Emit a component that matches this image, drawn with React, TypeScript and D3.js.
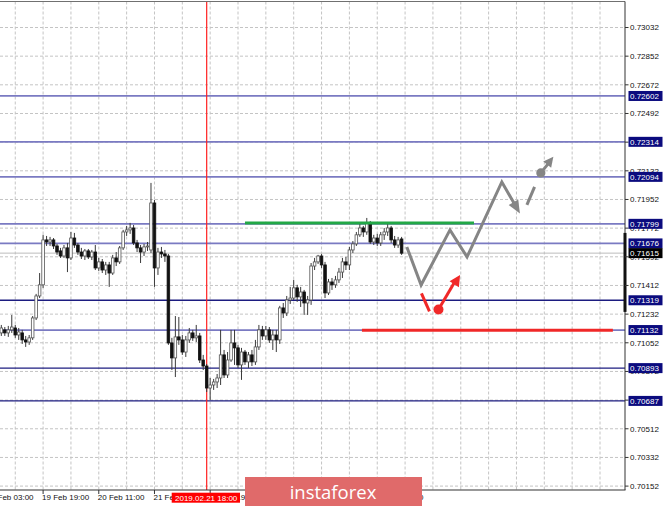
import React from "react";
import * as d3 from "d3";

const W = 665;
const H = 508;

// Hourly candles [open, high, low, close], first candle = bar index 4 (19 Feb 07:00)
const FIRST_BAR = 4;
const candles: [number, number, number, number][] = [
  [0.71114, 0.71164, 0.71095, 0.71145],
  [0.71133, 0.71151, 0.71095, 0.71114],
  [0.71114, 0.71158, 0.71089, 0.71133],
  [0.71133, 0.71227, 0.71114, 0.71151],
  [0.71145, 0.71164, 0.71083, 0.71101],
  [0.71101, 0.71145, 0.7107, 0.7112],
  [0.71114, 0.71133, 0.71045, 0.7107],
  [0.7107, 0.71095, 0.71026, 0.71057],
  [0.71057, 0.71101, 0.71039, 0.71083],
  [0.71083, 0.7122, 0.7107, 0.71208],
  [0.71208, 0.71359, 0.71195, 0.71346],
  [0.71346, 0.7149, 0.71333, 0.71416],
  [0.71416, 0.7173, 0.71397, 0.71698],
  [0.71698, 0.71723, 0.7166, 0.71685],
  [0.71685, 0.71717, 0.7166, 0.71698],
  [0.71698, 0.7171, 0.71641, 0.7166],
  [0.7166, 0.71673, 0.71604, 0.71622],
  [0.71629, 0.71648, 0.71585, 0.71597],
  [0.71597, 0.71666, 0.71585, 0.71648],
  [0.71648, 0.71679, 0.71496, 0.71585],
  [0.71585, 0.71748, 0.71572, 0.7171],
  [0.7171, 0.71742, 0.71648, 0.71666],
  [0.71666, 0.71679, 0.71604, 0.71622],
  [0.71622, 0.71648, 0.71578, 0.71597],
  [0.71597, 0.71641, 0.71572, 0.71629],
  [0.71629, 0.71641, 0.71578, 0.71591],
  [0.71591, 0.71635, 0.71572, 0.71622],
  [0.71622, 0.71666, 0.71509, 0.71522],
  [0.71522, 0.71585, 0.71503, 0.7156],
  [0.7156, 0.71578, 0.7149, 0.71509],
  [0.71509, 0.7156, 0.71478, 0.71541],
  [0.71541, 0.7156, 0.71403, 0.7149],
  [0.7149, 0.71604, 0.71478, 0.71585],
  [0.71585, 0.71622, 0.71534, 0.7156],
  [0.7156, 0.7166, 0.71547, 0.71648],
  [0.71648, 0.71761, 0.71635, 0.71748],
  [0.71748, 0.71786, 0.71723, 0.71761],
  [0.71761, 0.71805, 0.71736, 0.71773],
  [0.71773, 0.71792, 0.71666, 0.71679],
  [0.71679, 0.71698, 0.71622, 0.71648],
  [0.71648, 0.71666, 0.71553, 0.71622],
  [0.71622, 0.71673, 0.71597, 0.71654],
  [0.71654, 0.71685, 0.71629, 0.7166],
  [0.71635, 0.72056, 0.71616, 0.7193],
  [0.7193, 0.71949, 0.71403, 0.71522],
  [0.71522, 0.71648, 0.71478, 0.71622],
  [0.71622, 0.71654, 0.71585, 0.7161],
  [0.7161, 0.71635, 0.7156, 0.71597],
  [0.71597, 0.7161, 0.71039, 0.71051],
  [0.71051, 0.71083, 0.70881, 0.70957],
  [0.70957, 0.7122, 0.70837, 0.71089],
  [0.71089, 0.71214, 0.71039, 0.7107],
  [0.7107, 0.71101, 0.70976, 0.70994],
  [0.70994, 0.71095, 0.70963, 0.7107],
  [0.7107, 0.71145, 0.71051, 0.71114],
  [0.71114, 0.71133, 0.71064, 0.71083],
  [0.71083, 0.71164, 0.71057, 0.71095],
  [0.71095, 0.71114, 0.70925, 0.70944],
  [0.70944, 0.70976, 0.70881, 0.70906],
  [0.70906, 0.70919, 0.70743, 0.70768],
  [0.70768, 0.70831, 0.70693, 0.70787],
  [0.70787, 0.70825, 0.70756, 0.70806],
  [0.70806, 0.70856, 0.70768, 0.70831],
  [0.70831, 0.71133, 0.70787, 0.70976],
  [0.70976, 0.71007, 0.70831, 0.7085],
  [0.7085, 0.70994, 0.70831, 0.70944],
  [0.70944, 0.71133, 0.70932, 0.71051],
  [0.71051, 0.71133, 0.70913, 0.7102],
  [0.7102, 0.71039, 0.70894, 0.70913],
  [0.70913, 0.7102, 0.70819, 0.70994],
  [0.70994, 0.71007, 0.70913, 0.70932],
  [0.70932, 0.70994, 0.70894, 0.70976],
  [0.70976, 0.71007, 0.70906, 0.70932],
  [0.70932, 0.7107, 0.70913, 0.71026],
  [0.71026, 0.71164, 0.71007, 0.71133],
  [0.71133, 0.71158, 0.7107, 0.71095],
  [0.71095, 0.71158, 0.7107, 0.71133],
  [0.71133, 0.71151, 0.71051, 0.7107],
  [0.7107, 0.71133, 0.71007, 0.71101],
  [0.71101, 0.71133, 0.70994, 0.7107],
  [0.7107, 0.71284, 0.71045, 0.71271],
  [0.71271, 0.71302, 0.71208, 0.71239],
  [0.71239, 0.71346, 0.7122, 0.71321],
  [0.71321, 0.71403, 0.71296, 0.71333],
  [0.71333, 0.71447, 0.71321, 0.71397],
  [0.71397, 0.71416, 0.71309, 0.7134],
  [0.7134, 0.71403, 0.71277, 0.71371],
  [0.71371, 0.71384, 0.71227, 0.71302],
  [0.71302, 0.71346, 0.71227, 0.71321],
  [0.71321, 0.71553, 0.7129, 0.71534],
  [0.71534, 0.71585, 0.71509, 0.7156],
  [0.7156, 0.71604, 0.71547, 0.71597],
  [0.71597, 0.7161, 0.71522, 0.71541],
  [0.71541, 0.7156, 0.71333, 0.71365],
  [0.71365, 0.71453, 0.71352, 0.71434],
  [0.71434, 0.71459, 0.71384, 0.71416],
  [0.71416, 0.71472, 0.71397, 0.71447],
  [0.71447, 0.71522, 0.71428, 0.71496],
  [0.71496, 0.71585, 0.71459, 0.7156],
  [0.7156, 0.71591, 0.71509, 0.71541],
  [0.71541, 0.71654, 0.71509, 0.71635],
  [0.71635, 0.71691, 0.71616, 0.71673],
  [0.71673, 0.71748, 0.7166, 0.7173],
  [0.7173, 0.71805, 0.71717, 0.71773],
  [0.71773, 0.71786, 0.71717, 0.71748],
  [0.71748, 0.71836, 0.7173, 0.71805],
  [0.71805, 0.71817, 0.71673, 0.71685],
  [0.71685, 0.7173, 0.71666, 0.7171],
  [0.7171, 0.71736, 0.7166, 0.71679],
  [0.71679, 0.71748, 0.7166, 0.7173],
  [0.7173, 0.71773, 0.71698, 0.71748],
  [0.71748, 0.71805, 0.71723, 0.71773],
  [0.71773, 0.71786, 0.71679, 0.71698],
  [0.71698, 0.71723, 0.71648, 0.71666],
  [0.71666, 0.71717, 0.71648, 0.71698],
  [0.71704, 0.71717, 0.71604, 0.71615],
];

const priceTicks = [
  0.70152, 0.70332, 0.70512, 0.70692, 0.70872, 0.71052, 0.71232, 0.71412, 0.71592,
  0.71772, 0.71952, 0.72132, 0.72312, 0.72492, 0.72672, 0.72852, 0.73032,
];
// tick labels fully covered by a level label in the reference
const hiddenTickLabels = [0.72312];

const timeLabels = ["19 Feb 03:00", "19 Feb 19:00", "20 Feb 11:00", "21 Feb 03:00", "21 Feb 19:00", "25 Feb 19:00"];
const timeLabelBars = [0, 16, 32, 48, 64, 112];

const levelPrices = [0.72602, 0.72314, 0.72094, 0.71799, 0.71676, 0.71319, 0.71132, 0.70893, 0.70687];
const darkLevelPrices = [0.71319, 0.70893, 0.70687];
const currentPrice = 0.71615;
const markerBar = 63;
const markerLabel = "2019.02.21 18:00";

// Drawn scenario (bar index, price)
const greenLine: [number, number][] = [[74.0, 0.71805], [139.8, 0.71805]];
const redLine: [number, number][] = [[107.6, 0.7113], [179.7, 0.7113]];
const grayPath: [number, number][] = [
  [120.5, 0.71654], [124.6, 0.71415], [132.9, 0.71761], [137.8, 0.71591], [147.8, 0.72062], [153.0, 0.71864],
];
const grayDash: [number, number][] = [[155.0, 0.71918], [157.2, 0.72031]];
const grayDot: [number, number] = [159.0, 0.72119];
const grayTip: [number, number] = [162.6, 0.72220];
const redDash: [number, number][] = [[124.7, 0.71362], [127.0, 0.71249]];
const redDot: [number, number] = [129.6, 0.71261];
const redTip: [number, number] = [135.8, 0.71478];
const rangeBar: [number, number] = [0.71742, 0.71246];

const PL = 0, PR = 625, PT = 1.5, PB = 490;

const x = d3.scaleLinear().domain([8, 176]).range([15.25, 600]);
const y = d3.scaleLinear().domain([0.70152, 0.73032]).range([486.1, 27.5]);

const FONT = "'Liberation Sans', Arial, sans-serif";

function arrowHead(from: [number, number], to: [number, number], len: number, half: number) {
  const dx = to[0] - from[0], dy = to[1] - from[1];
  const d = Math.hypot(dx, dy);
  const ux = dx / d, uy = dy / d;
  const bx = to[0] - ux * len, by = to[1] - uy * len;
  return `${to[0]},${to[1]} ${bx - uy * half},${by + ux * half} ${bx + uy * half},${by - ux * half}`;
}

const px = (p: [number, number]): [number, number] => [x(p[0]), y(p[1])];

export default function App() {
  const line = d3.line<[number, number]>().x((d) => x(d[0])).y((d) => y(d[1]));
  const gridXs: number[] = [];
  for (let b = 8; x(b) < PR; b += 8) gridXs.push(x(b));

  const grayEndFrom = px(grayPath[grayPath.length - 2]);
  const grayEnd = px(grayPath[grayPath.length - 1]);
  const grayTrim: [number, number] = [
    grayEnd[0] - (grayEnd[0] - grayEndFrom[0]) * 0.25,
    grayEnd[1] - (grayEnd[1] - grayEndFrom[1]) * 0.25,
  ];
  const grayPts = grayPath.slice(0, -1).map(px).concat([grayTrim]);

  const bw = 2.6;
  return (
    <svg width={W} height={H} style={{ position: "fixed", left: 0, top: 0, background: "#fff" }}>
      <defs>
        <clipPath id="plot">
          <rect x={PL} y={PT} width={PR - PL} height={PB - PT} />
        </clipPath>
        <clipPath id="page">
          <rect x={0} y={0} width={W} height={H} />
        </clipPath>
      </defs>
      <rect x={0} y={0} width={W} height={H} fill="#fff" />
      <g clipPath="url(#plot)">
        {gridXs.map((gx, i) => (
          <line key={"gx" + i} x1={gx} x2={gx} y1={PT} y2={PB} stroke="#c4c4c4" strokeDasharray="3,2" />
        ))}
        {priceTicks.map((t, i) => (
          <line key={"gy" + i} x1={PL} x2={PR} y1={y(t)} y2={y(t)} stroke="#c4c4c4" strokeDasharray="3,2" />
        ))}
        {levelPrices.map((p, i) => {
          const dark = darkLevelPrices.includes(p);
          return (
            <line key={"lv" + i} x1={PL} x2={PR} y1={y(p)} y2={y(p)}
              stroke={dark ? "#1c1c80" : "#7a7ac2"} strokeWidth={dark ? 1.3 : 1.8} />
          );
        })}
        <line x1={PL} x2={PR} y1={y(currentPrice)} y2={y(currentPrice)} stroke="#bdbdbd" strokeWidth={1} />
        <line x1={x(markerBar)} x2={x(markerBar)} y1={PT} y2={PB} stroke="#ff2020" strokeWidth={1.2} />
        {candles.map((c, i) => {
          const [o, h, l, cl] = c;
          const cx = x(FIRST_BAR + i);
          const bull = cl >= o;
          const top = y(Math.max(o, cl));
          const bot = y(Math.min(o, cl));
          return (
            <g key={"c" + i}>
              <line x1={cx} x2={cx} y1={y(h)} y2={y(l)} stroke="#3a3a3a" strokeWidth={1} />
              <rect x={cx - bw / 2} y={top} width={bw} height={Math.max(1, bot - top)}
                fill={bull ? "#ffffff" : "#111111"} stroke={bull ? "#555555" : "#111111"} strokeWidth={0.8} />
            </g>
          );
        })}
        <path d={line(greenLine) || ""} stroke="#22a846" strokeWidth={3} fill="none" />
        <path d={line(redLine) || ""} stroke="#f02828" strokeWidth={3} fill="none" />
        <polyline points={grayPts.map((p) => p.join(",")).join(" ")} stroke="#858585" strokeWidth={3} fill="none" strokeLinejoin="miter" />
        <polygon points={arrowHead(grayEndFrom, grayEnd, 13, 5.5)} fill="#858585" />
        <path d={line(grayDash) || ""} stroke="#858585" strokeWidth={3} fill="none" />
        <circle cx={x(grayDot[0])} cy={y(grayDot[1])} r={4.6} fill="#858585" />
        <line x1={x(grayDot[0])} y1={y(grayDot[1])} x2={(x(grayDot[0]) + x(grayTip[0])) / 2 + 1} y2={(y(grayDot[1]) + y(grayTip[1])) / 2 - 1}
          stroke="#858585" strokeWidth={3} />
        <polygon points={arrowHead(px(grayDot), px(grayTip), 10, 5)} fill="#858585" />
        <path d={line(redDash) || ""} stroke="#f02828" strokeWidth={3} fill="none" />
        <circle cx={x(redDot[0])} cy={y(redDot[1])} r={5} fill="#f02828" />
        <line x1={x(redDot[0])} y1={y(redDot[1])} x2={x(redTip[0]) - 6} y2={y(redTip[1]) + 8} stroke="#f02828" strokeWidth={3} />
        <polygon points={arrowHead(px(redDot), px(redTip), 11, 5.5)} fill="#f02828" />
      </g>

      <line x1={PL} x2={PR} y1={PT} y2={PT} stroke="#707070" strokeWidth={1} />
      <line x1={PL} x2={PR + 0.5} y1={PB} y2={PB} stroke="#333" strokeWidth={1} />
      <line x1={PR} x2={PR} y1={PT} y2={PB} stroke="#333" strokeWidth={1} />
      <rect x={PR - 1.5} y={y(rangeBar[0])} width={3} height={y(rangeBar[1]) - y(rangeBar[0])} fill="#111" />

      {priceTicks.map((t, i) => (
        <g key={"pt" + i}>
          <line x1={PR} x2={PR + 3.5} y1={y(t)} y2={y(t)} stroke="#333" />
          {!hiddenTickLabels.includes(t) && (
            <text x={630} y={y(t)} dy="0.35em" fontSize={8} fontFamily={FONT} fill="#111">{t.toFixed(5)}</text>
          )}
        </g>
      ))}
      {levelPrices.map((p, i) => (
        <g key={"ll" + i}>
          <rect x={628.5} y={y(p) - 5} width={34} height={10} fill="#0b0b7e" />
          <text x={630} y={y(p)} dy="0.35em" fontSize={8} fontFamily={FONT} fill="#fff">{p.toFixed(5)}</text>
        </g>
      ))}
      <rect x={628.5} y={y(currentPrice) - 5} width={34} height={10} fill="#000" />
      <text x={630} y={y(currentPrice)} dy="0.35em" fontSize={8} fontFamily={FONT} fill="#fff">{currentPrice.toFixed(5)}</text>

      <g clipPath="url(#page)">
        {timeLabelBars.map((b, i) => (
          <g key={"tl" + i}>
            <line x1={x(b)} x2={x(b)} y1={PB} y2={PB + 4} stroke="#333" />
            <text x={x(b) - 1} y={500} fontSize={8} fontFamily={FONT} fill="#111">{timeLabels[i]}</text>
          </g>
        ))}
      </g>
      <rect x={171.7} y={492.7} width={68.3} height={10} fill="#ff0000" />
      <text x={175} y={500.7} fontSize={8} fontFamily={FONT} fill="#fff">{markerLabel}</text>

      <rect x={245} y={477} width={177} height={29} fill="#e06a6a" />
      <text x={333} y={498.5} textAnchor="middle" fontSize={18.5} fontFamily="'Open Sans', sans-serif" fill="#fff">instaforex</text>
    </svg>
  );
}
